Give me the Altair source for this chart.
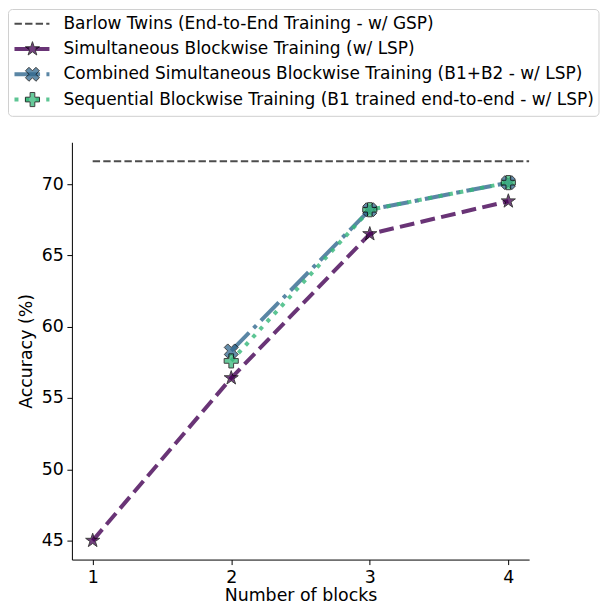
import math
import altair as alt
import pandas as pd

# ---- data ----
blocks = [1, 2, 3, 4]
blocks_late = [2, 3, 4]
barlow_acc = 71.6
simultaneous = [45.0, 56.4, 66.5, 68.8]
combined = [58.3, 68.2, 70.1]
sequential = [57.6, 68.2, 70.1]

names = [
    "Barlow Twins (End-to-End Training - w/ GSP)",
    "Simultaneous Blockwise Training (w/ LSP)",
    "Combined Simultaneous Blockwise Training (B1+B2 - w/ LSP)",
    "Sequential Blockwise Training (B1 trained end-to-end - w/ LSP)",
]
y_ticks = [45, 50, 55, 60, 65, 70]

W, H = 458, 418
FONT = "DejaVu Sans"
FS = 17.4          # axis text
LFS = 17.0         # legend text
LEG_FRAME_TOP = -133
LEG_FRAME_BOTTOM = -26
LEG_TOP = LEG_FRAME_TOP + 14.3
LEG_STEP = 25.3


# marker shapes (matplotlib-like "*", "X", "P") as SVG paths in the unit box
def poly(pts):
    return "M" + "L".join(f"{x:.4f},{y:.4f}" for x, y in pts) + "Z"


star_pts = []
for k in range(10):
    r = 1.0 if k % 2 == 0 else 0.382
    a = -math.pi / 2 + k * math.pi / 5
    star_pts.append((r * math.cos(a), r * math.sin(a)))
STAR = poly(star_pts)
t = 1 / 3
plus_pts = [(-t, -1), (t, -1), (t, -t), (1, -t), (1, t), (t, t), (t, 1), (-t, 1),
            (-t, t), (-1, t), (-1, -t), (-t, -t)]
PLUS = poly(plus_pts)
c = math.cos(math.pi / 4) * 1.05
X_SHAPE = poly([((x - y) * c, (x + y) * c) for x, y in plus_pts])

styles = {
    names[0]: dict(color="black", dash=[7.4, 3.2], width=2, opacity=0.7),
    names[1]: dict(color="#440154", dash=[14.8, 6.4], width=4, opacity=0.8, shape=STAR, size=220),
    names[2]: dict(color="#31688e", dash=[25.6, 6.4, 4, 6.4], width=4, opacity=0.8, shape=X_SHAPE, size=200),
    names[3]: dict(color="#35b779", dash=[4, 6.6], width=4, opacity=0.8, shape=PLUS, size=200),
}

df = pd.concat([
    pd.DataFrame({"blocks": blocks, "acc": simultaneous, "series": names[1]}),
    pd.DataFrame({"blocks": blocks_late, "acc": combined, "series": names[2]}),
    pd.DataFrame({"blocks": blocks_late, "acc": sequential, "series": names[3]}),
], ignore_index=True)
barlow_df = pd.DataFrame({"blocks": [blocks[0]], "acc": [barlow_acc], "series": [names[0]]})
legend_df = pd.DataFrame({"series": names})

x_enc = alt.X(
    "blocks:Q",
    scale=alt.Scale(domain=[0.85, 4.15], nice=False, zero=False),
    axis=alt.Axis(values=blocks, format="d", title="Number of blocks", titlePadding=1),
)
y_enc = alt.Y(
    "acc:Q",
    scale=alt.Scale(domain=[43.67, 72.93], nice=False, zero=False),
    axis=alt.Axis(values=y_ticks, title="Accuracy (%)", titlePadding=6),
)

layers = []
b = styles[names[0]]
layers.append(
    alt.Chart(barlow_df).mark_rule(
        color=b["color"], strokeDash=b["dash"], strokeWidth=b["width"], opacity=b["opacity"]
    ).encode(x=x_enc, x2=alt.value(W), y=y_enc)
)
for name in names[1:]:
    s = styles[name]
    layers.append(
        alt.Chart(df).transform_filter(alt.datum.series == name).mark_line(
            color=s["color"], strokeDash=s["dash"], strokeWidth=s["width"],
            opacity=s["opacity"], strokeCap="butt"
        ).encode(x=x_enc, y=y_enc)
    )
for name in names[1:]:
    s = styles[name]
    layers.append(
        alt.Chart(df).transform_filter(alt.datum.series == name).mark_point(
            shape=s["shape"], size=s["size"], filled=True,
            fill=s["color"], stroke="black", strokeWidth=1, opacity=0.75
        ).encode(x=x_enc, y=y_enc)
    )

# ---- legend drawn above the plot area ----
layers.append(
    alt.Chart(pd.DataFrame({"series": [names[0]]})).mark_rect(
        cornerRadius=4, fill="white", stroke="#d0d0d0", strokeWidth=1
    ).encode(x=alt.value(-63.5), x2=alt.value(528), y=alt.value(LEG_FRAME_TOP),
             y2=alt.value(LEG_FRAME_BOTTOM))
)
for i, name in enumerate(names):
    s = styles[name]
    row_y = LEG_TOP + i * LEG_STEP
    sub = alt.Chart(legend_df).transform_filter(alt.datum.series == name)
    layers.append(
        sub.mark_rule(
            color=s["color"], strokeDash=s["dash"], strokeWidth=s["width"],
            opacity=s["opacity"], strokeCap="butt"
        ).encode(x=alt.value(-57.5), x2=alt.value(-22.5), y=alt.value(row_y))
    )
    if "shape" in s:
        layers.append(
            sub.mark_point(
                shape=s["shape"], size=s["size"], filled=True,
                fill=s["color"], stroke="black", strokeWidth=1, opacity=0.75
            ).encode(x=alt.value(-39.5), y=alt.value(row_y))
        )
    layers.append(
        sub.mark_text(
            align="left", baseline="middle", font=FONT, fontSize=LFS, color="black"
        ).encode(x=alt.value(-8.5), y=alt.value(row_y), text="series:N")
    )

chart = (
    alt.layer(*layers)
    .properties(width=W, height=H, padding=0)
    .configure_view(stroke=None)
    .configure_axis(
        grid=False, domainColor="black", domainWidth=1, tickColor="black", tickSize=5,
        labelFont=FONT, labelFontSize=FS, labelColor="black", labelPadding=3.5,
        titleFont=FONT, titleFontSize=FS, titleColor="black", titleFontWeight="normal",
    )
)

chart.save("out.html", embed_options={"renderer": "svg", "actions": False})
